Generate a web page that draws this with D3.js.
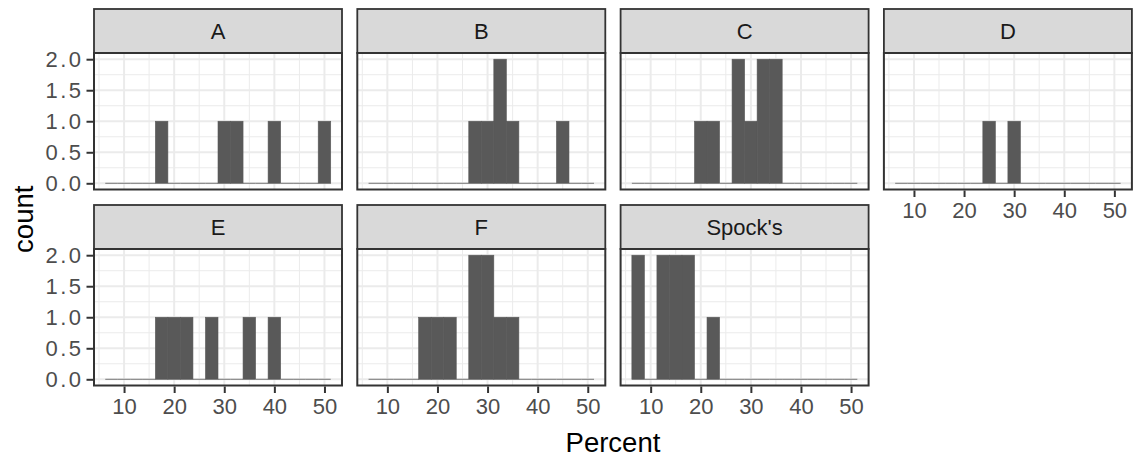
<!DOCTYPE html>
<html>
<head>
<meta charset="utf-8">
<script src="https://cdn.jsdelivr.net/npm/d3@7"></script>
<style>
  body { margin: 0; background: #fff; }
  svg { display: block; font-family: "Liberation Sans", Arial, sans-serif; }
</style>
</head>
<body>
<div id="chart"></div>
<script>
// histogram bins (Percent), 18 bins of width 2.5
var binEdges = [6.25, 8.75, 11.25, 13.75, 16.25, 18.75, 21.25, 23.75, 26.25, 28.75,
                31.25, 33.75, 36.25, 38.75, 41.25, 43.75, 46.25, 48.75, 51.25];

var panelNames = ['A', 'B', 'C', 'D', 'E', 'F', "Spock's"];

var countsA     = [0,0,0,0,1,0,0,0,0,1,1,0,0,1,0,0,0,1],
    countsB     = [0,0,0,0,0,0,0,0,1,1,2,1,0,0,0,1,0,0],
    countsC     = [0,0,0,0,0,1,1,0,2,1,2,2,0,0,0,0,0,0],
    countsD     = [0,0,0,0,0,0,0,1,0,1,0,0,0,0,0,0,0,0],
    countsE     = [0,0,0,0,1,1,1,0,1,0,0,1,0,1,0,0,0,0],
    countsF     = [0,0,0,0,1,1,1,0,2,2,1,1,0,0,0,0,0,0],
    countsSpock = [2,0,2,2,2,0,1,0,0,0,0,0,0,0,0,0,0,0];

var allCounts = [countsA, countsB, countsC, countsD, countsE, countsF, countsSpock];

var xTicks = [10, 20, 30, 40, 50],
    xMinor = [5, 15, 25, 35, 45],
    yTicks = [0, 0.5, 1, 1.5, 2],
    yMinor = [0.25, 0.75, 1.25, 1.75];

var W = 1134, H = 459;
var marginLeft = 94, marginTop = 9,
    panelW = 248, gapX = 15.3,
    stripH = 44, panelH = 136.5, rowStep = 196;

var font = '"Liberation Sans", Arial, sans-serif';

var svg = d3.select('#chart').append('svg')
    .attr('width', W).attr('height', H);

svg.append('rect').attr('width', W).attr('height', H).attr('fill', '#fff');

// ggplot style: expand 5% around bin extent
var xr = binEdges[binEdges.length - 1] - binEdges[0];
var x = d3.scaleLinear()
    .domain([binEdges[0] - 0.05 * xr, binEdges[binEdges.length - 1] + 0.05 * xr])
    .range([0, panelW]);
var y = d3.scaleLinear().domain([-0.1, 2.1]).range([panelH, 0]);

var bins = d3.range(binEdges.length - 1).map(i => ({x0: binEdges[i], x1: binEdges[i + 1]}));

panelNames.forEach((name, k) => {
    var col = k % 4, row = Math.floor(k / 4);
    var px = marginLeft + col * (panelW + gapX),
        py = marginTop + row * rowStep + stripH;

    var g = svg.append('g').attr('transform', 'translate(' + px + ',' + py + ')');

    // strip
    g.append('rect')
        .attr('x', 0).attr('y', -stripH)
        .attr('width', panelW).attr('height', stripH)
        .attr('fill', '#D9D9D9').attr('stroke', '#333333').attr('stroke-width', 1.8);
    g.append('text')
        .attr('x', panelW / 2).attr('y', -stripH / 2 + 8)
        .attr('text-anchor', 'middle')
        .attr('font-size', 22).attr('fill', '#1A1A1A')
        .text(name);

    // panel background + grid
    g.append('rect').attr('width', panelW).attr('height', panelH).attr('fill', '#fff');
    g.selectAll('.vminor').data(xMinor).enter().append('line')
        .attr('x1', d => x(d)).attr('x2', d => x(d)).attr('y1', 0).attr('y2', panelH)
        .attr('stroke', '#EBEBEB').attr('stroke-width', 1);
    g.selectAll('.hminor').data(yMinor).enter().append('line')
        .attr('y1', d => y(d)).attr('y2', d => y(d)).attr('x1', 0).attr('x2', panelW)
        .attr('stroke', '#EBEBEB').attr('stroke-width', 1);
    g.selectAll('.vmajor').data(xTicks).enter().append('line')
        .attr('x1', d => x(d)).attr('x2', d => x(d)).attr('y1', 0).attr('y2', panelH)
        .attr('stroke', '#EBEBEB').attr('stroke-width', 2);
    g.selectAll('.hmajor').data(yTicks).enter().append('line')
        .attr('y1', d => y(d)).attr('y2', d => y(d)).attr('x1', 0).attr('x2', panelW)
        .attr('stroke', '#EBEBEB').attr('stroke-width', 2);

    // bars (adjacent bins drawn with a hairline of same colour so no seams show)
    var data = bins.map((b, i) => ({x0: b.x0, x1: b.x1, n: allCounts[k][i]}));
    g.selectAll('.bar').data(data.filter(d => d.n > 0)).enter().append('rect')
        .attr('x', d => x(d.x0))
        .attr('width', d => x(d.x1) - x(d.x0))
        .attr('y', d => y(d.n))
        .attr('height', d => y(0) - y(d.n))
        .attr('fill', '#595959')
        .attr('stroke', '#595959').attr('stroke-width', 0.6);
    g.selectAll('.zero').data(data.filter(d => d.n === 0)).enter().append('line')
        .attr('x1', d => x(d.x0)).attr('x2', d => x(d.x1))
        .attr('y1', y(0)).attr('y2', y(0))
        .attr('stroke', '#595959').attr('stroke-width', 0.8);

    // border
    g.append('rect').attr('width', panelW).attr('height', panelH)
        .attr('fill', 'none').attr('stroke', '#333333').attr('stroke-width', 2);

    // x axis on bottom row and on D
    if (row === 1 || k === 3) {
        var xa = g.append('g').attr('transform', 'translate(0,' + (panelH + 1) + ')')
            .call(d3.axisBottom(x).tickValues(xTicks).tickSize(6.5).tickPadding(5));
        xa.select('.domain').remove();
        xa.selectAll('line').attr('stroke', '#333333').attr('stroke-width', 2);
        xa.selectAll('text').attr('font-size', 22).attr('fill', '#4D4D4D')
            .attr('font-family', font);
    }
    // y axis on left column
    if (col === 0) {
        var ya = g.append('g').attr('transform', 'translate(-1,0)')
            .call(d3.axisLeft(y).tickValues(yTicks).tickFormat(d3.format('.1f')).tickSize(6.5).tickPadding(5));
        ya.select('.domain').remove();
        ya.selectAll('line').attr('stroke', '#333333').attr('stroke-width', 2);
        ya.selectAll('text').attr('font-size', 22).attr('fill', '#4D4D4D')
            .attr('font-family', font)
            .attr('letter-spacing', 2.5).attr('dx', 2);
    }
});

// axis titles
svg.append('text')
    .attr('x', marginLeft + (4 * panelW + 3 * gapX) / 2).attr('y', 452)
    .attr('text-anchor', 'middle').attr('font-size', 27.5).attr('fill', '#000')
    .text('Percent');
svg.append('text')
    .attr('transform', 'translate(33,' + (marginTop + stripH + (rowStep + panelH) / 2) + ') rotate(-90)')
    .attr('text-anchor', 'middle').attr('font-size', 27.5).attr('fill', '#000')
    .text('count');
</script>
</body>
</html>
